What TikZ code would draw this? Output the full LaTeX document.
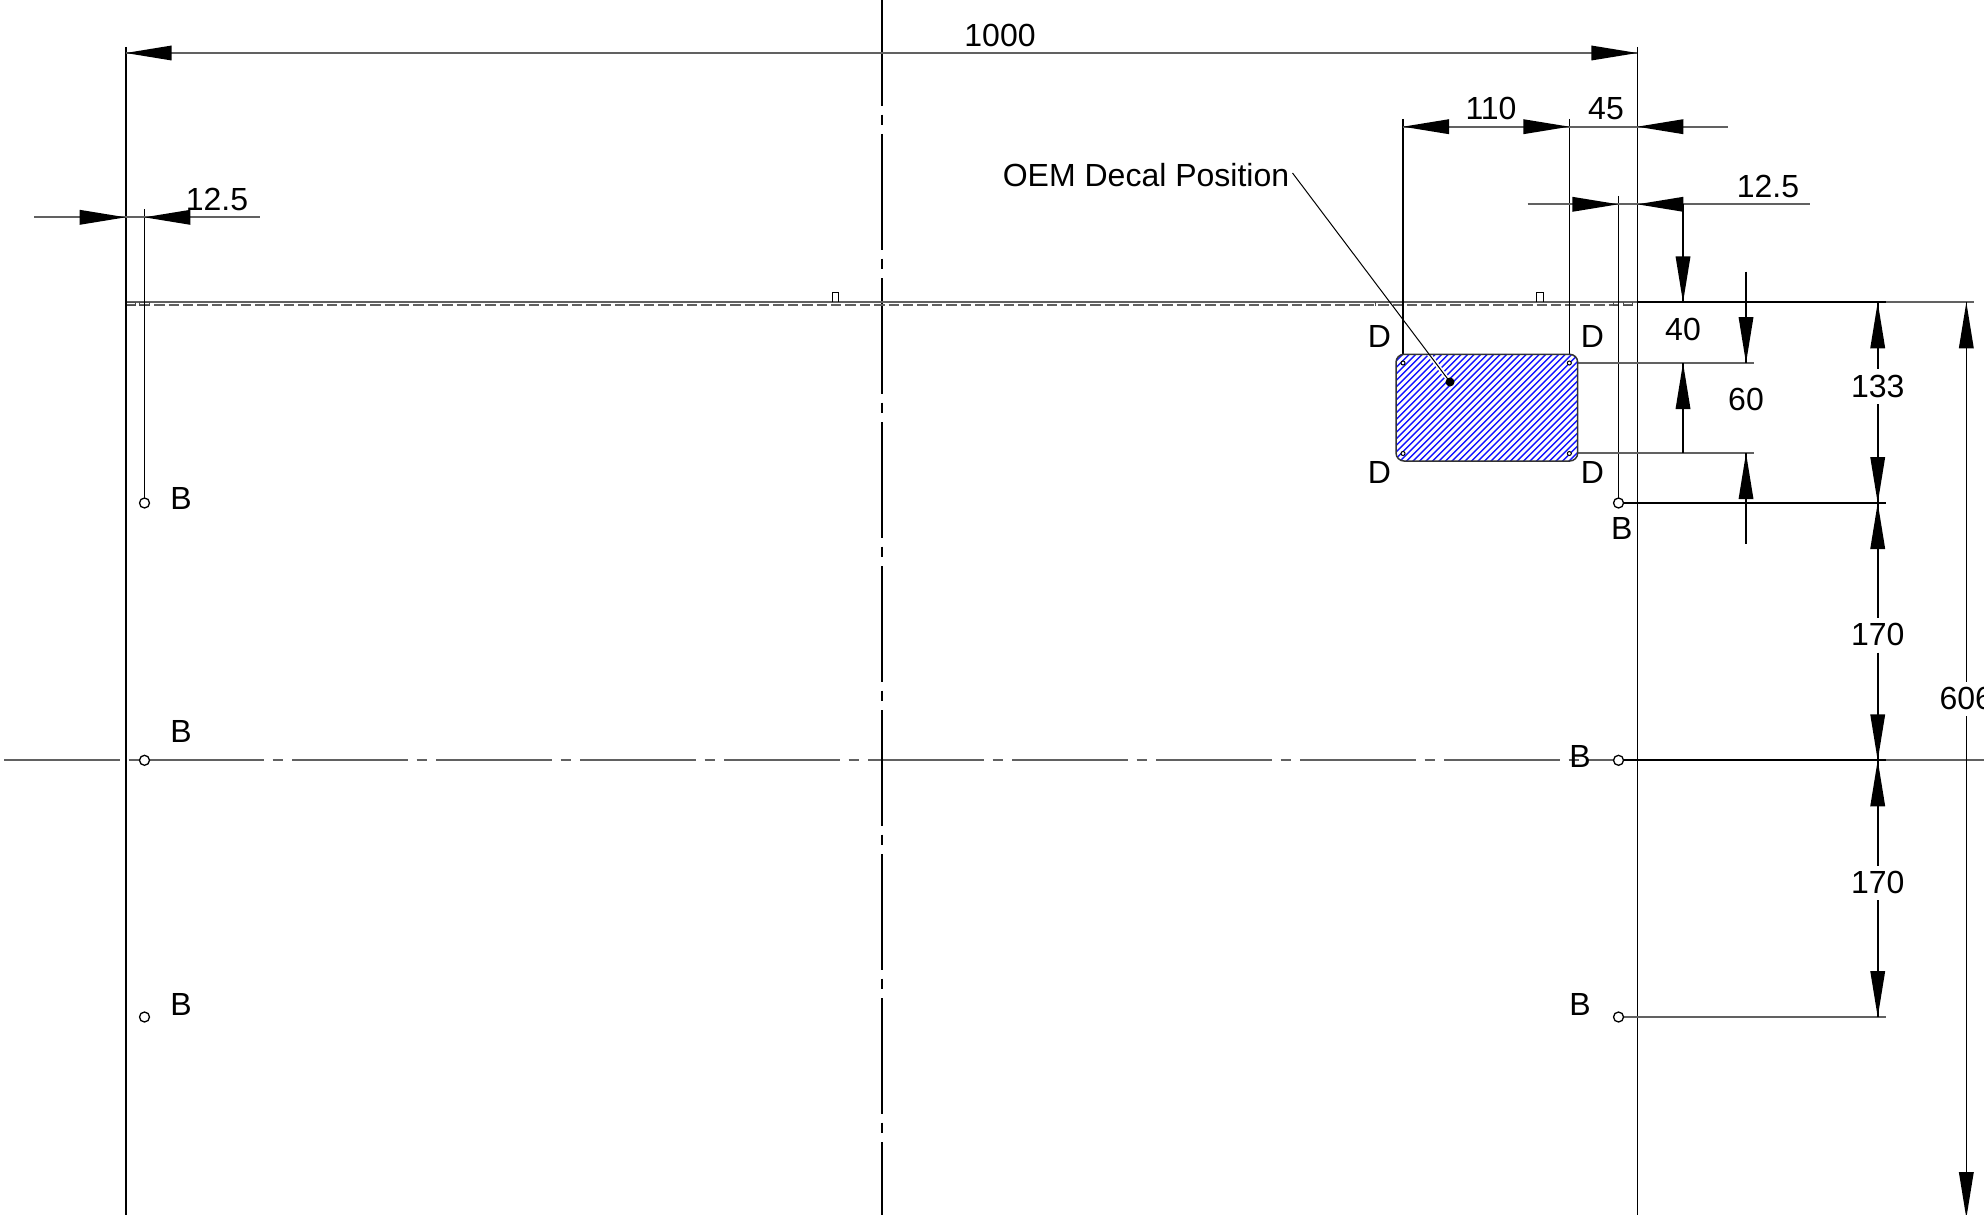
\documentclass[tikz,border=0pt]{standalone}
\usepackage{fontspec}
\setmainfont{Liberation Sans}
\newcommand{\ArL}[2]{\fill (#1,#2) -- ++(46,7.5) -- ++(0,-15) -- cycle;}
\newcommand{\ArR}[2]{\fill (#1,#2) -- ++(-46,7.5) -- ++(0,-15) -- cycle;}
\newcommand{\ArU}[2]{\fill (#1,#2) -- ++(7.5,46) -- ++(-15,0) -- cycle;}
\newcommand{\ArD}[2]{\fill (#1,#2) -- ++(7.5,-46) -- ++(-15,0) -- cycle;}
\tikzset{
  ln/.style={line width=0.8pt,black},
  dimln/.style={line width=0.9pt,black!62},
  blackln/.style={line width=0.9pt,black},
  thinln/.style={line width=0.5pt,black},
  center line/.style={line width=0.9pt,black!62,dash pattern=on 58pt off 4.35pt on 5.3pt off 4.35pt},
  vcenter line/.style={line width=0.8pt,black,dash pattern=on 58pt off 4.35pt on 5.3pt off 4.35pt},
  hidden line/.style={line width=0.9pt,black!62,dash pattern=on 5.15pt off 2.05pt},
  hatchline/.style={line width=0.72pt,color={rgb,255:red,20;green,20;blue,255}},
  hole/.style={line width=0.65pt,draw=black,fill=white},
  lbl/.style={inner sep=0pt,font=\fontsize{16pt}{16pt}\selectfont}
}
\begin{document}
\begin{tikzpicture}[x=0.5pt,y=-0.5pt]
\useasboundingbox (0,0) rectangle (1984,1214);
\clip (0,0) rectangle (1984,1214);
% centre lines
\draw[center line] (4,760.3) -- (1990,760.3);
\draw[vcenter line] (882,-10) -- (882,1220);
% sheet edge
\draw[dimln] (126,302.3) -- (1974.3,302.3);
\draw[blackln] (1637.3,302.3) -- (1885.7,302.3);
\draw[hidden line] (125.4,305.2) -- (1633,305.2);
\draw[thinln] (832.3,302) -- (832.3,292.7) -- (838.7,292.7) -- (838.7,302);
\draw[thinln] (1536.7,302) -- (1536.7,292.7) -- (1543,292.7) -- (1543,302);
\draw[thinln,black!70] (126,302.3) rectangle (135.5,305.7);
\draw[thinln,black!70] (139.3,302.3) rectangle (149.5,305.7);
\draw[thinln,black!70] (1613.3,302.3) -- (1613.3,305.7) -- (1618,305.7);
\draw[thinln,black!70] (1623.3,305.7) -- (1632,305.7) -- (1632,302.3);
\draw[thinln,black!70] (1623.3,302.3) -- (1623.3,305.7);
\draw[thinln,black!70] (1375.7,302.3) -- (1375.7,305.5);
% extension lines
\draw[ln] (125.7,47) -- (125.7,1220);
\draw[ln] (1637.5,47) -- (1637.5,1220);
\draw[ln] (144.5,209.3) -- (144.5,503);
\draw[ln] (1618.5,196) -- (1618.5,503);
\draw[ln] (1403,119) -- (1403,354.3);
\draw[ln] (1569.5,119) -- (1569.5,354.3);
% dimension lines horizontal
\draw[dimln] (125.7,53) -- (1637.3,53);
\ArL{125.7}{53}\ArR{1637.3}{53}
\draw[dimln] (1403,126.7) -- (1728,126.7);
\ArL{1403}{126.7}\ArR{1569.3}{126.7}\ArL{1637.3}{126.7}
\draw[dimln] (34.3,217.3) -- (259.7,217.3);
\ArR{125.7}{217.3}\ArL{144.3}{217.3}
\draw[dimln] (1527.7,204.3) -- (1810,204.3);
\ArR{1618.3}{204.3}\ArL{1637.3}{204.3}
% reference lines to the right
\draw[dimln] (1577.7,363) -- (1754,363);
\draw[dimln] (1577.7,453.2) -- (1754,453.2);
\draw[blackln] (1623.6,503) -- (1885.7,503);
\draw[blackln] (1623.6,760.3) -- (1885.7,760.3);
\draw[dimln] (1623.6,1017) -- (1885.7,1017);
% dimension 40
\draw[ln] (1683,204.3) -- (1683,302.3);
\ArD{1683}{302.3}
\draw[ln] (1683,363) -- (1683,453.2);
\ArU{1683}{363}
% dimension 60
\draw[ln] (1746,271.7) -- (1746,363);
\ArD{1746}{363}
\draw[ln] (1746,453.2) -- (1746,544);
\ArU{1746}{453.2}
% chain on the right
\draw[ln] (1877.7,302.3) -- (1877.7,369.3) (1877.7,404) -- (1877.7,618.3)
          (1877.7,652.7) -- (1877.7,866) (1877.7,900) -- (1877.7,1017);
\ArU{1877.7}{302.3}\ArD{1877.7}{503}\ArU{1877.7}{503}
\ArD{1877.7}{760.3}\ArU{1877.7}{760.3}\ArD{1877.7}{1017}
\draw[ln] (1966.3,302.3) -- (1966.3,681.7) (1966.3,716) -- (1966.3,1220);
\ArU{1966.3}{302.3}\ArD{1966.3}{1218}
% decal
\begin{scope}
\clip[rounded corners=4] (1396,354.3) rectangle (1577.7,461);
\foreach \c in {1640,1646.5,...,2060}
  \draw[hatchline] (\c-340,340) -- (\c-480,480);
\draw[line width=2pt,white] (1425,349) -- (1450,382);
\end{scope}
\draw[line width=0.75pt,black!80,rounded corners=4] (1396,354.3) rectangle (1577.7,461);
\foreach \p in {(1403,363),(1569.3,363),(1403,453.5),(1569.3,453.5)}
  \draw[line width=0.5pt,black,fill=white] \p circle[radius=2];
% leader
\coordinate (dot) at (1450,382);
\fill (dot) circle[radius=4.5];
\draw[thinln] (1292.5,173) -- (dot);
% holes
\foreach \x in {144.5,1618.5}
  \foreach \y in {503,760.3,1017}
    \draw[hole] (\x,\y) circle[radius=5];
% text
\node[lbl] (d1000) at (1000,35.4) {1000};
\node[lbl] (d110) at (1491,108.5) {110};
\node[lbl] (d45) at (1606,108.5) {45};
\node[lbl] (d125r) at (1768,186) {12.5};
\node[lbl] (d125l) at (217,199) {12.5};
\node[lbl] (oem) at (1146,175) {OEM Decal Position};
\node[lbl] (d40) at (1683,329.3) {40};
\node[lbl] (d60) at (1746,399.3) {60};
\node[lbl] (d133) at (1877.7,386.7) {133};
\node[lbl] (d170a) at (1877.7,634.5) {170};
\node[lbl] (d170b) at (1877.7,882) {170};
\node[lbl] (d606) at (1966.3,698.3) {606};
\node[lbl] (da) at (1379.3,336) {D};
\node[lbl] (db) at (1592.3,336) {D};
\node[lbl] (dc) at (1379.3,472.7) {D};
\node[lbl] (dd) at (1592.3,472.7) {D};
\node[lbl] (ba) at (181,498.5) {B};
\node[lbl] (bb) at (181,731) {B};
\node[lbl] (bc) at (181,1004) {B};
\node[lbl] (bd) at (1621.7,528) {B};
\node[lbl] (be) at (1580,756) {B};
\node[lbl] (bf) at (1580,1004) {B};
\end{tikzpicture}
\end{document}
